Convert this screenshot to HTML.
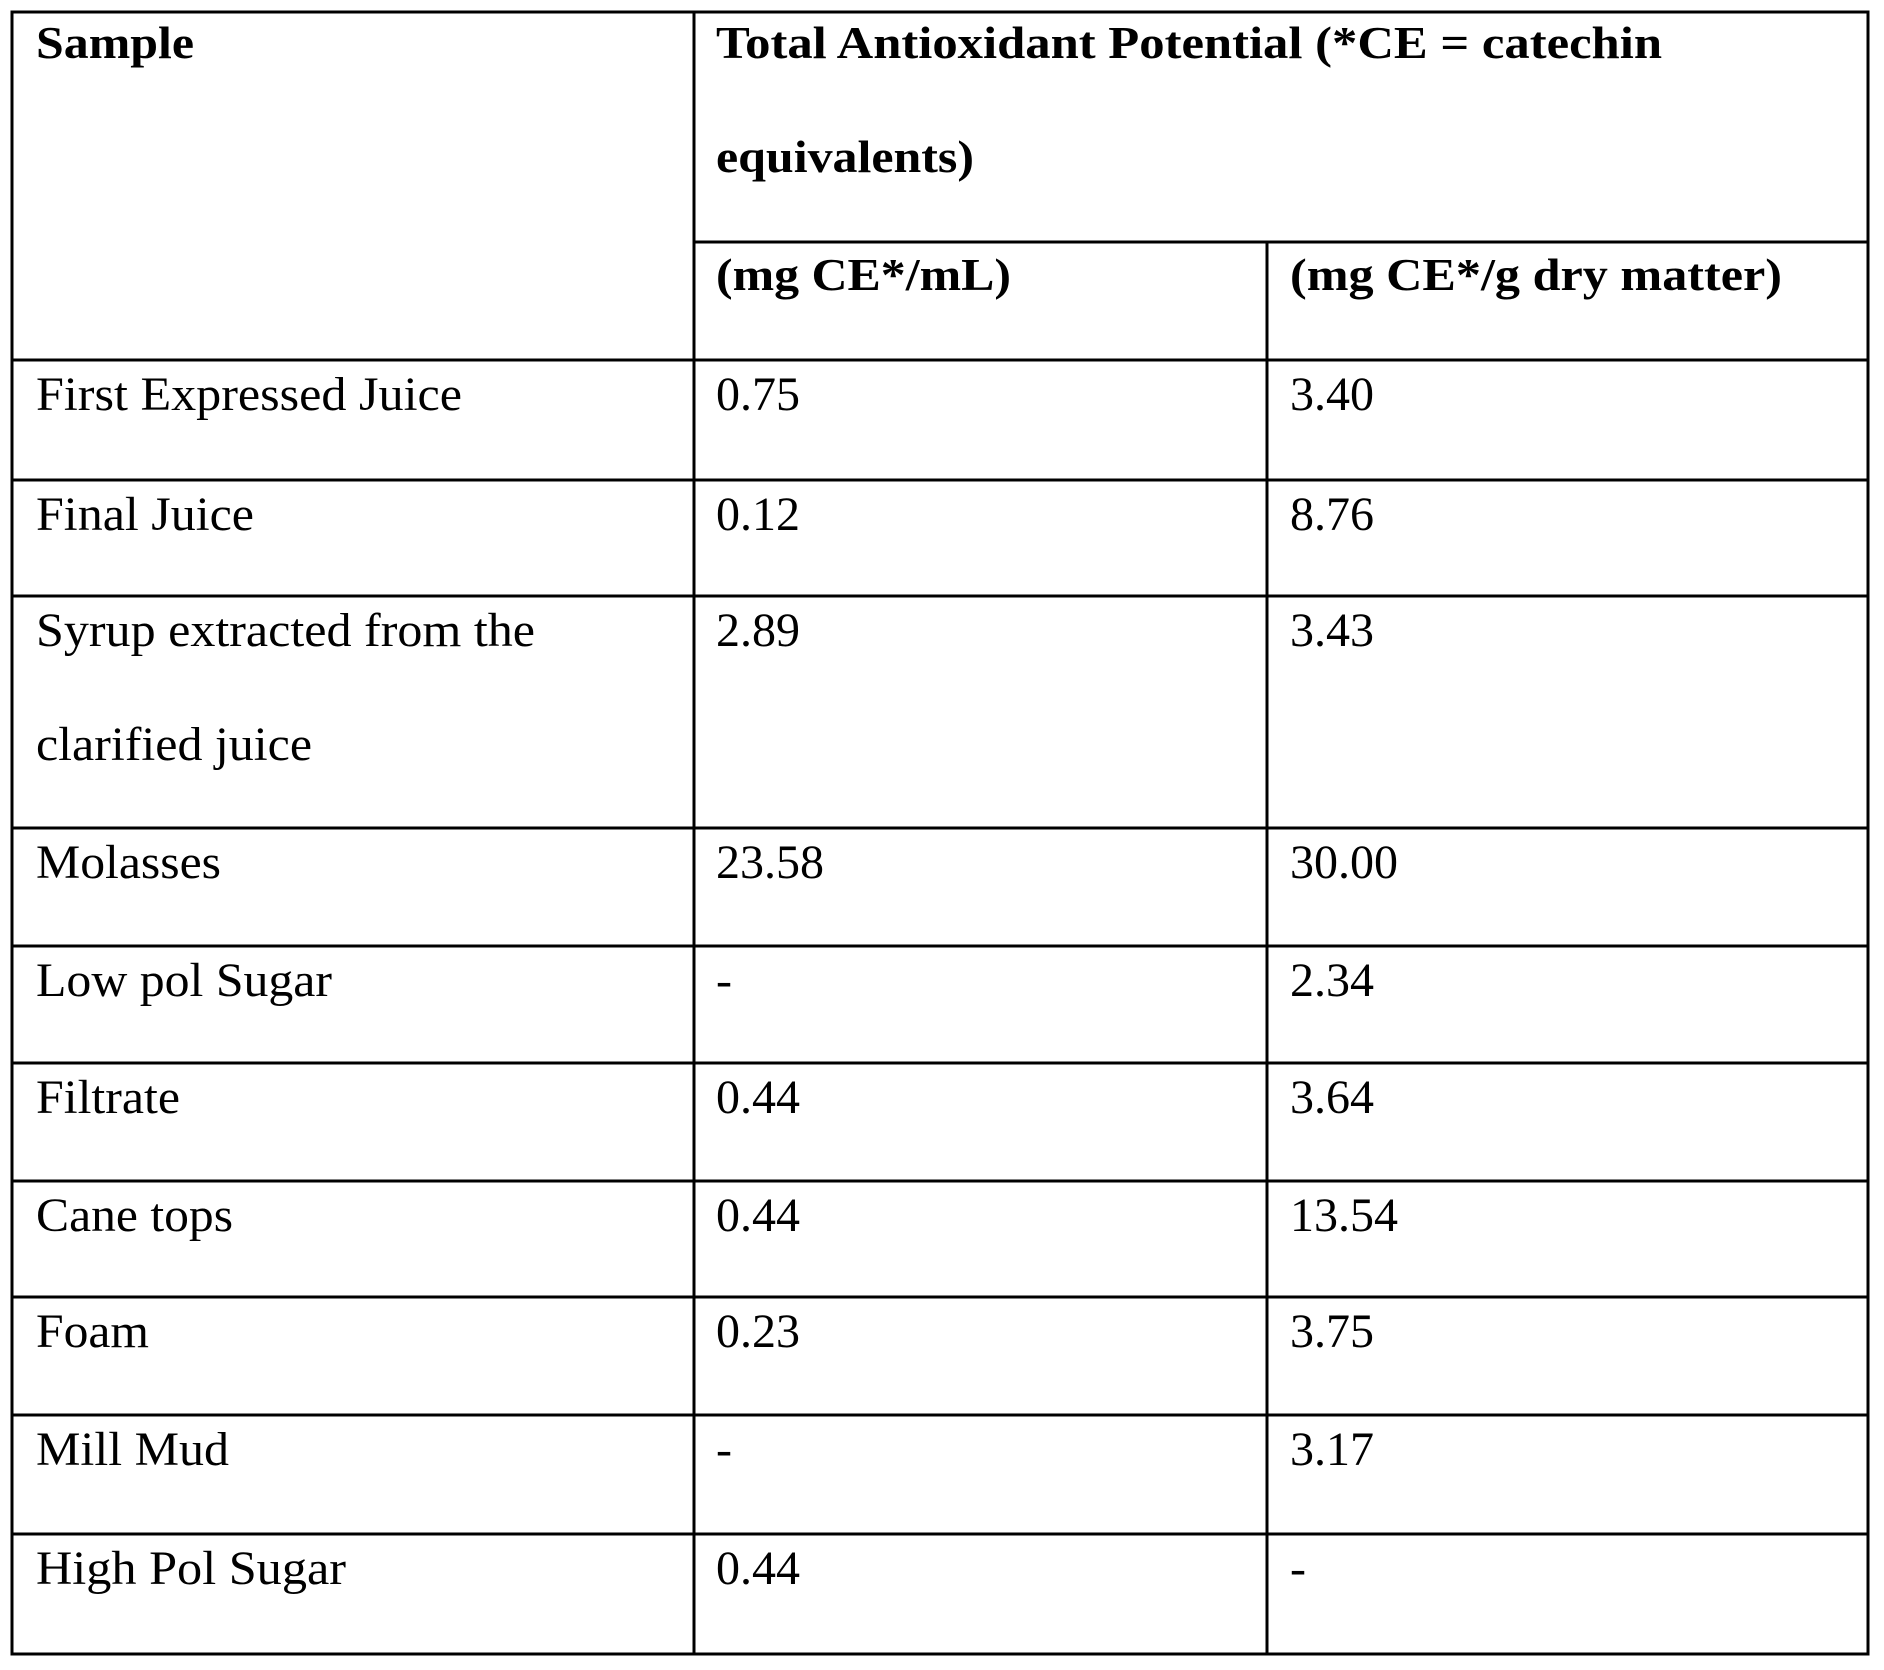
<!DOCTYPE html>
<html><head><meta charset="utf-8"><style>
html,body{margin:0;padding:0;background:#fff;}
svg{display:block;}
text{font-family:"Liberation Serif",serif;fill:#000;}
.b{font-weight:bold;font-size:46px;}
.r{font-size:48px;}
</style></head><body>
<svg id="t" width="1884" height="1670" viewBox="0 0 1884 1670">
<g stroke="#000" stroke-width="3" fill="none">
<rect x="12" y="12" width="1856" height="1642"/>
<line x1="694" y1="12" x2="694" y2="1654"/>
<line x1="1267" y1="242" x2="1267" y2="1654"/>
<line x1="694" y1="242" x2="1868" y2="242"/>
</g>
<g id="hlines" stroke="#000" stroke-width="3"></g>
<text class="b" x="36" y="58" textLength="158" lengthAdjust="spacingAndGlyphs">Sample</text>
<text class="b" x="716" y="58" textLength="946" lengthAdjust="spacingAndGlyphs">Total Antioxidant Potential (*CE = catechin</text>
<text class="b" x="716" y="172" textLength="258" lengthAdjust="spacingAndGlyphs">equivalents)</text>
<text class="b" x="716" y="290" textLength="295" lengthAdjust="spacingAndGlyphs">(mg CE*/mL)</text>
<text class="b" x="1290" y="290" textLength="492" lengthAdjust="spacingAndGlyphs">(mg CE*/g dry matter)</text>
<g id="body"></g>
</svg>
<script>
const samples=["First Expressed Juice","Final Juice","Syrup extracted from the|clarified juice","Molasses","Low pol Sugar","Filtrate","Cane tops","Foam","Mill Mud","High Pol Sugar"];
const perML=["0.75","0.12","2.89","23.58","-","0.44","0.44","0.23","-","0.44"];
const perDM=["3.40","8.76","3.43","30.00","2.34","3.64","13.54","3.75","3.17","-"];
const sampleWidths=[[426],[218],[499,276],[185],[296],[144],[197],[113],[193],[310]];
const rowTops=[360,480,596,828,946,1063,1181,1297,1415,1534];
const NS="http://www.w3.org/2000/svg";
const hl=document.getElementById('hlines'),body=document.getElementById('body');
rowTops.forEach(y=>{const l=document.createElementNS(NS,'line');
l.setAttribute('x1',12);l.setAttribute('x2',1868);l.setAttribute('y1',y);l.setAttribute('y2',y);


hl.appendChild(l);});
function txt(x,y,s,w,name){const t=document.createElementNS(NS,'text');
t.setAttribute('x',x);t.setAttribute('y',y);t.setAttribute('class','r');
if(w){t.setAttribute('textLength',w);t.setAttribute('lengthAdjust','spacingAndGlyphs');}
t.textContent=s;


body.appendChild(t);}
samples.forEach((s,i)=>{const y=rowTops[i]+50;
s.split('|').forEach((p,j)=>txt(36,y+j*114,p,sampleWidths[i][j],'sample-name'));
txt(716,y,perML[i],null,'value-mg-per-ml');
txt(1290,y,perDM[i],null,'value-mg-per-g-dm');});
</script>
</body></html>
